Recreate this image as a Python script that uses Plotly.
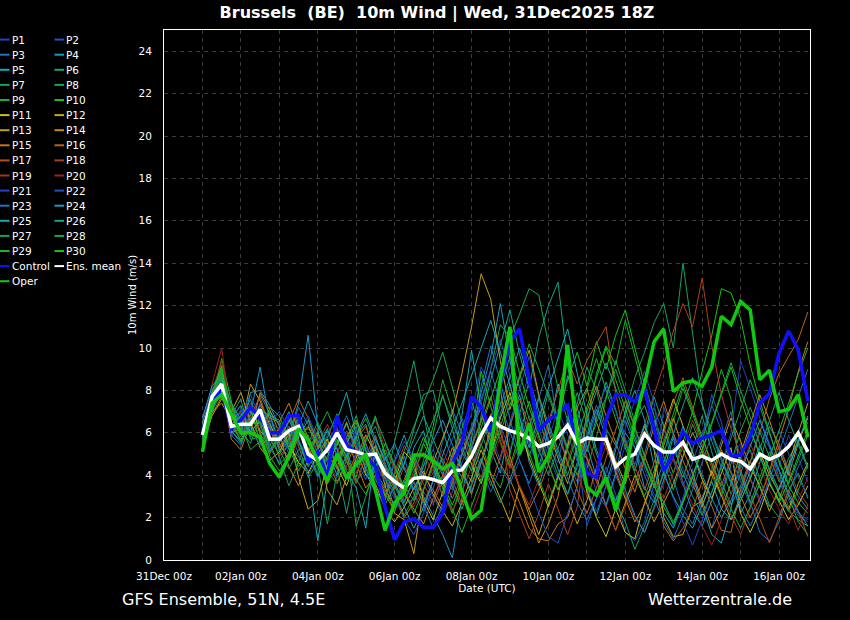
import plotly.graph_objects as go
import pandas as pd

# ---------------- data ----------------
TIMES = pd.date_range("2026-01-01 00:00", periods=64, freq="6h")

P1 = [6.3,7.9,8.6,6.5,6.0,7.1,6.4,5.2,
      5.9,6.7,5.5,4.8,4.2,5.6,6.3,4.9,
      4.4,5.3,4.7,3.6,2.9,3.3,4.1,3.2,
      2.6,3.9,4.8,5.7,6.9,9.1,8.2,6.4,
      5.1,7.3,8.8,6.2,4.9,3.8,5.6,6.9,
      4.7,3.2,2.5,3.9,5.4,6.1,4.3,3.1,
      2.8,1.6,2.9,4.3,2.1,1.5,3.2,4.8,
      5.5,3.9,2.7,3.6,4.4,5.9,4.8,3.7]
P2 = [5.7,7.3,8.1,6.8,6.9,6.2,7.4,6.1,
      5.4,4.9,6.2,5.7,4.3,3.8,5.1,6.0,
      5.5,4.6,3.9,3.1,3.7,2.6,2.9,4.4,
      5.2,4.1,3.3,4.9,6.2,7.4,5.9,4.7,
      6.5,8.1,9.6,7.7,5.3,4.6,6.8,5.2,
      1.6,2.9,4.4,3.1,1.3,0.9,1.8,3.6,
      7.2,5.9,4.3,3.4,5.7,7.8,6.5,4.2,
      3.1,4.6,6.2,5.3,3.9,2.8,2.1,1.8]
P3 = [6.0,7.6,8.4,5.9,5.4,6.6,7.8,6.9,
      5.1,5.8,7.2,6.4,5.0,4.4,6.1,5.2,
      3.7,4.3,5.8,4.6,3.4,4.9,3.1,2.3,
      3.8,5.6,7.1,6.0,5.1,8.2,10.1,8.4,
      6.7,4.9,5.8,7.6,9.2,6.3,4.5,3.7,
      5.9,7.3,6.1,4.0,2.9,3.6,5.0,6.6,
      4.9,3.8,2.4,1.7,2.9,4.3,5.6,7.0,
      4.2,2.7,1.3,0.9,1.8,3.1,4.4,5.3]
P4 = [6.4,8.0,8.9,6.1,5.6,6.9,9.1,6.5,
      5.3,5.9,7.4,10.6,6.2,3.9,4.8,5.5,
      6.3,4.1,3.2,2.8,4.7,5.9,4.3,3.0,
      2.1,1.2,0.1,2.9,5.8,7.9,9.6,12.1,
      9.4,6.8,4.6,3.5,5.1,6.4,8.7,7.2,
      5.4,3.9,2.6,4.1,6.0,5.3,3.4,2.7,
      4.2,5.8,3.6,2.3,1.6,2.8,4.5,3.9,
      2.2,3.1,4.6,6.3,5.5,4.1,3.0,2.4]
P5 = [6.2,7.5,8.2,6.7,7.3,5.8,6.2,7.0,
      6.4,5.2,4.9,4.2,0.9,3.8,6.6,7.9,
      5.9,6.4,4.8,3.9,2.4,3.6,5.3,6.1,
      4.4,3.0,4.6,6.8,9.9,7.1,5.2,4.1,
      6.3,7.8,5.6,4.4,6.1,8.3,7.0,4.8,
      3.3,2.1,3.5,5.2,6.9,8.0,6.6,4.4,
      2.2,1.5,2.7,3.9,2.6,1.2,0.8,2.4,
      4.9,6.1,5.0,3.6,2.8,4.2,5.7,6.5]
P6 = [5.8,7.7,8.7,6.0,6.5,7.6,5.9,5.4,
      6.1,7.0,5.7,4.5,5.3,6.2,4.9,4.0,
      4.6,5.7,6.3,5.0,3.8,4.5,6.2,7.8,
      8.0,6.1,4.7,3.9,5.4,6.6,8.5,10.2,
      11.8,9.7,8.1,10.5,12.0,13.1,9.2,6.4,
      5.1,6.7,8.4,7.1,5.5,4.2,6.0,7.7,
      6.3,4.8,3.9,5.2,6.8,5.1,3.7,2.6,
      3.5,4.7,3.4,2.5,3.1,2.3,1.9,1.6]
P7 = [5.5,7.0,8.0,7.2,6.1,5.5,6.8,6.3,
      4.8,3.5,4.6,5.9,4.5,1.7,4.1,5.6,
      6.8,5.1,4.2,3.4,5.6,7.4,9.4,6.9,
      4.5,3.6,5.0,6.2,7.5,6.0,4.8,6.9,
      8.3,6.4,4.9,6.2,7.9,6.6,5.3,7.4,
      9.1,8.0,6.2,5.4,7.0,8.6,9.8,11.2,
      12.1,10.0,14.0,10.7,7.4,5.6,4.3,3.1,
      4.4,5.2,3.8,2.6,2.0,3.3,4.1,2.9]
P8 = [6.1,7.8,9.2,6.3,5.7,6.3,7.0,5.8,
      5.6,6.3,5.4,3.9,4.6,5.8,6.9,5.3,
      1.6,3.0,4.4,5.2,4.3,3.5,2.8,4.0,
      5.9,7.8,6.2,4.4,3.7,6.8,9.0,11.1,
      10.5,11.6,12.8,12.5,10.2,8.1,6.6,5.0,
      4.3,5.8,7.6,9.4,8.0,6.5,7.3,5.9,
      4.6,3.3,4.9,6.4,5.3,4.0,3.0,4.5,
      6.1,7.2,6.0,4.9,3.7,4.8,5.6,4.4]
P9 = [5.9,7.2,8.6,6.9,6.4,5.2,5.6,7.2,
      6.8,5.7,4.4,5.1,5.9,4.2,3.6,4.7,
      5.8,6.7,5.5,4.1,3.2,2.1,3.0,4.7,
      6.3,8.5,7.0,5.1,4.2,5.5,4.1,3.4,
      5.0,6.9,8.4,6.7,5.2,4.0,3.1,4.6,
      6.4,8.8,10.1,9.2,11.3,9.6,7.8,6.1,
      5.0,6.6,8.1,6.9,5.6,7.3,9.0,7.6,
      4.0,2.7,3.9,5.1,4.2,3.0,1.8,1.2]
P10 = [5.6,7.4,9.5,7.5,5.9,6.0,6.6,5.5,
       4.5,5.0,6.5,5.2,4.0,4.9,5.7,4.6,
       3.9,5.6,6.8,4.9,3.6,2.7,3.9,5.5,
       4.6,3.4,2.2,3.6,5.7,8.9,7.3,5.6,
       4.4,6.0,7.5,5.9,4.6,6.8,8.5,9.8,
       8.2,10.3,9.0,10.6,11.8,10.0,8.3,6.8,
       5.3,4.1,5.5,7.0,8.9,10.6,12.8,12.6,
       11.4,9.2,7.5,6.0,4.6,3.5,2.7,2.2]
P11 = [6.0,7.1,7.9,6.4,6.8,7.3,6.1,5.6,
       6.2,5.5,4.6,4.1,5.0,5.7,4.4,3.5,
       4.8,5.9,5.0,4.3,3.7,5.1,4.6,2.8,
       1.9,3.2,4.9,5.8,4.5,3.6,5.0,6.7,
       7.9,6.2,4.8,3.6,2.5,3.9,5.4,6.6,
       3.2,2.0,1.1,2.4,1.3,1.0,2.7,3.9,
       6.2,7.6,6.3,5.0,3.8,2.9,4.1,5.3,
       2.2,1.3,2.3,3.6,2.8,1.9,2.6,3.5]
P12 = [5.4,6.8,7.6,7.0,7.9,6.5,5.3,4.7,
       5.1,6.0,3.9,2.4,2.8,4.5,5.4,6.5,
       5.2,4.0,3.6,2.4,1.8,2.5,3.4,4.2,
       3.1,2.3,1.6,2.7,3.9,5.2,4.0,2.9,
       1.8,3.5,2.3,1.2,2.6,4.0,2.9,1.7,
       2.8,4.3,5.9,4.7,3.6,5.1,6.3,5.2,
       2.0,1.1,1.2,2.5,2.8,4.2,3.0,1.9,
       2.8,3.8,5.1,4.0,3.2,2.4,3.6,4.6]
P13 = [6.5,7.7,8.0,6.0,6.2,8.3,7.5,6.4,
       5.5,4.7,5.8,6.3,5.4,3.3,2.6,3.9,
       5.0,4.5,5.4,3.5,2.2,1.9,0.3,3.3,
       4.6,5.8,6.9,8.8,11.0,13.5,12.3,9.4,
       7.1,8.6,9.9,7.8,6.1,4.8,3.6,5.3,
       4.8,3.7,2.5,1.4,2.7,4.0,2.9,1.8,
       2.7,3.6,4.9,6.0,5.1,4.0,5.4,6.7,
       5.6,4.4,3.5,2.3,3.4,4.5,6.0,7.4]
P14 = [5.8,7.0,7.4,6.6,7.0,6.0,7.9,7.1,
       6.0,4.4,3.5,4.8,6.0,5.1,4.3,5.8,
       6.6,5.5,4.3,3.0,4.0,3.1,2.4,1.7,
       2.9,4.0,5.3,4.2,3.1,4.6,6.2,8.1,
       4.9,3.4,2.1,0.8,1.7,3.0,5.4,7.2,
       8.1,6.5,5.3,4.2,2.9,1.8,2.6,3.9,
       5.4,6.7,5.2,4.1,2.8,1.5,2.4,3.6,
       5.0,6.4,7.8,6.6,5.2,4.0,5.5,6.7]
P15 = [6.3,7.4,8.2,5.7,5.2,6.4,7.3,6.7,
       6.5,7.4,6.1,5.3,4.5,3.6,4.8,5.7,
       4.5,3.4,4.0,3.3,2.6,3.8,4.9,4.0,
       3.3,2.5,3.6,5.0,6.1,7.2,5.6,4.5,
       3.8,2.7,1.5,1.0,0.9,1.7,2.0,3.5,
       7.0,8.2,6.8,5.5,4.3,3.2,4.8,6.3,
       7.5,6.0,4.7,3.6,2.5,3.8,5.2,4.1,
       3.0,2.0,2.9,4.2,5.6,7.1,8.9,10.3]
P16 = [5.6,6.9,7.7,6.3,6.7,7.0,6.0,5.0,
       5.8,6.5,7.6,6.7,5.5,4.6,3.7,4.4,
       5.7,6.3,5.0,3.8,3.1,2.0,2.7,3.8,
       4.9,4.0,2.9,3.9,5.3,6.5,7.7,6.0,
       4.6,3.4,2.4,3.3,4.5,5.9,4.6,3.3,
       2.2,3.4,4.8,6.1,7.5,6.2,5.0,3.7,
       1.6,0.9,1.5,2.4,3.7,2.5,1.4,1.3,
       3.3,4.6,6.0,7.6,8.8,9.6,10.4,11.7]
P17 = [6.1,7.5,8.9,6.4,5.8,6.8,7.7,6.2,
       5.3,6.1,6.9,5.6,4.7,5.3,6.2,4.7,
       3.6,4.9,5.9,4.5,3.3,4.4,3.6,2.7,
       3.7,4.8,3.8,2.6,3.5,4.7,3.5,4.9,
       6.4,7.6,6.3,5.1,6.5,8.0,9.5,8.3,
       9.4,10.2,11.0,7.9,5.6,4.4,3.3,4.6,
       6.0,7.4,8.6,7.2,5.8,4.6,3.5,4.8,
       4.2,3.1,1.9,0.8,2.0,3.3,2.3,1.1]
P18 = [5.9,7.2,9.0,7.1,6.5,5.9,6.4,5.9,
       4.9,5.4,6.6,5.8,5.1,4.1,5.0,6.1,
       5.3,4.4,3.5,2.9,4.2,5.4,4.7,3.6,
       2.7,3.7,4.9,6.0,4.8,3.9,5.3,6.5,
       3.3,2.1,1.0,2.2,3.6,2.4,1.2,2.5,
       5.8,4.6,3.5,2.5,3.7,5.0,6.4,7.8,
       9.2,10.8,12.1,11.0,13.3,10.1,7.8,6.2,
       4.9,3.8,2.9,4.1,5.4,4.3,3.2,2.6]
P19 = [6.2,7.9,9.4,6.8,6.1,7.4,6.9,6.0,
       5.7,6.9,5.3,4.6,5.5,6.4,5.3,4.3,
       4.1,5.0,4.1,3.2,2.4,3.0,4.2,5.1,
       4.0,3.1,2.3,3.2,4.4,5.6,6.9,5.5,
       4.3,5.6,6.8,5.6,4.4,3.3,4.7,6.1,
       4.9,3.7,2.6,1.4,2.5,3.7,4.9,3.8,
       2.9,4.1,5.3,6.6,5.5,4.3,3.2,2.1,
       1.2,2.4,3.7,4.9,3.8,2.5,1.4,2.6]
P20 = [6.0,8.3,10.0,6.6,6.3,6.6,6.2,5.6,
       6.3,5.8,4.8,5.4,6.3,5.5,4.6,3.8,
       5.0,5.8,6.6,5.3,4.3,3.2,2.5,3.4,
       4.3,5.2,4.1,3.0,2.1,3.3,4.5,5.8,
       4.7,3.5,2.6,3.8,5.0,6.3,5.1,4.0,
       3.0,4.1,5.4,4.3,3.1,2.0,1.3,2.4,
       3.6,4.8,3.7,2.6,1.6,0.7,1.9,3.1,
       4.3,5.5,4.4,3.3,2.4,1.7,2.8,3.9]
P21 = [6.6,8.1,8.5,5.8,6.9,7.8,6.7,6.6,
       6.1,5.0,5.9,6.8,5.7,4.6,3.9,5.0,
       6.2,5.4,4.5,3.7,4.6,5.6,4.8,3.9,
       3.0,2.1,3.2,4.5,5.9,7.4,9.0,10.4,
       8.7,7.0,5.5,4.3,5.7,7.1,5.9,4.6,
       3.4,2.3,3.5,4.7,6.2,7.5,8.9,7.4,
       4.1,2.9,1.8,0.7,1.9,3.2,4.5,6.0,
       9.4,8.1,6.7,5.5,4.2,3.1,2.2,1.9]
P22 = [5.3,7.1,7.9,6.2,7.1,6.2,5.4,6.5,
       7.0,6.2,5.0,4.0,4.9,5.9,6.8,5.8,
       4.7,3.8,4.9,4.0,3.0,1.9,1.2,2.2,
       3.4,4.5,5.7,6.7,5.5,4.3,3.2,4.4,
       3.6,4.7,3.4,2.2,1.1,0.8,2.2,3.4,
       5.6,6.9,8.2,7.0,5.7,4.5,5.9,7.2,
       5.9,4.7,3.5,4.6,5.9,7.3,6.1,4.8,
       3.7,2.6,3.6,4.8,6.1,5.0,3.9,3.0]
P23 = [6.1,7.3,8.0,6.9,5.9,6.9,7.2,5.3,
       4.6,5.6,6.7,5.0,3.9,4.8,5.8,6.8,
       5.6,4.7,5.7,4.8,3.9,2.8,3.7,2.6,
       1.5,2.6,3.8,5.0,6.3,7.6,8.9,7.4,
       6.0,4.7,3.6,4.9,6.3,5.0,3.8,2.7,
       1.9,2.9,4.1,5.3,6.6,5.3,4.0,2.9,
       1.8,1.0,2.1,3.3,4.6,5.9,4.7,3.6,
       2.5,1.6,2.6,3.8,5.1,6.4,7.8,9.0]
P24 = [6.7,8.2,8.8,6.4,6.0,7.9,8.0,7.3,
       6.3,5.3,6.3,7.5,6.4,5.2,4.0,4.9,
       5.9,6.9,5.7,4.7,5.5,4.3,3.3,4.5,
       5.6,6.6,5.4,4.3,3.2,4.6,6.0,7.3,
       8.6,10.0,8.5,7.0,5.6,4.3,3.1,4.4,
       5.8,7.1,5.8,4.5,3.3,2.1,1.3,2.5,
       3.8,5.0,6.3,5.1,4.0,2.9,2.0,2.8,
       4.1,5.3,6.6,5.4,4.2,3.1,2.3,1.6]
P25 = [5.7,7.0,8.5,7.4,6.6,6.1,6.5,6.9,
       5.5,6.6,5.6,4.4,5.2,6.1,5.2,4.2,
       3.4,1.5,5.4,4.4,3.5,2.5,1.5,2.5,
       3.7,4.9,6.1,7.4,8.7,10.0,11.3,9.8,
       8.2,6.7,5.3,6.7,8.0,9.4,10.9,8.8,
       6.9,5.2,3.9,2.8,3.9,5.1,6.4,5.2,
       4.1,3.0,2.1,1.5,2.6,3.7,2.4,1.9,
       3.0,4.2,5.4,4.3,3.3,4.4,5.6,6.8]
P26 = [6.4,7.8,8.3,6.1,5.5,6.7,6.8,5.1,
       5.9,6.8,5.8,6.6,5.3,4.3,5.5,6.4,
       5.4,4.3,3.3,2.6,3.5,4.6,5.7,6.8,
       5.7,4.6,3.5,2.4,3.6,4.8,3.7,2.7,
       3.8,5.0,6.3,7.7,6.4,5.2,4.0,5.3,
       6.7,8.0,9.3,8.1,6.8,5.6,4.5,3.4,
       4.6,5.9,7.3,8.6,7.3,6.0,4.8,3.7,
       2.8,3.9,5.2,6.5,7.9,6.6,5.4,4.3]
P27 = [5.5,7.6,9.0,6.8,7.6,5.7,5.8,6.3,
       5.2,4.3,5.2,5.5,6.5,5.4,4.4,2.2,
       4.6,5.6,6.7,5.6,4.5,3.4,4.4,5.5,
       6.6,7.7,6.5,5.3,4.2,5.4,6.7,8.1,
       9.6,8.1,6.6,5.2,4.0,5.2,6.5,7.9,
       6.4,5.0,3.8,2.7,1.8,0.5,1.6,2.8,
       4.0,5.3,4.1,3.0,2.1,3.2,4.4,5.7,
       7.1,8.5,7.2,5.9,4.7,3.6,4.7,5.9]
P28 = [6.2,7.4,8.9,7.3,6.3,6.5,7.1,6.8,
       6.6,5.3,4.2,5.1,6.1,7.0,5.9,4.8,
       5.8,4.6,3.8,3.0,4.0,5.2,6.3,7.4,
       8.5,9.8,8.1,6.5,5.0,3.7,4.8,6.0,
       7.3,8.7,10.2,9.0,7.7,6.4,5.2,4.0,
       5.2,6.4,7.7,9.0,7.6,6.2,4.9,3.7,
       2.7,1.8,2.8,4.0,5.2,6.5,7.9,9.3,
       8.0,6.7,5.4,4.2,3.1,2.3,3.3,4.5]
P29 = [5.8,7.1,8.7,6.5,5.6,6.4,6.5,4.9,
       4.2,4.9,5.9,6.2,5.6,4.7,5.6,4.9,
       3.8,3.1,4.3,5.5,4.4,3.3,2.2,3.3,
       4.5,3.4,2.4,1.3,2.5,3.7,5.0,6.3,
       7.7,6.3,5.0,3.8,2.7,3.9,5.2,6.6,
       8.0,9.5,8.0,6.6,5.3,4.1,3.0,4.2,
       5.5,6.9,8.3,7.0,5.7,4.5,3.4,2.4,
       1.5,2.5,3.6,4.8,6.1,7.4,8.8,10.0]
P30 = [6.0,7.9,9.1,6.2,6.8,7.2,5.5,5.7,
       5.0,5.7,6.8,5.8,4.8,3.9,4.7,5.5,
       6.5,5.2,4.1,3.1,2.3,3.5,4.7,5.8,
       4.7,3.6,2.6,3.7,4.9,6.2,7.6,9.0,
       10.5,8.8,7.2,5.8,4.5,3.3,4.5,5.8,
       7.2,8.6,10.0,8.5,7.1,5.8,4.6,3.5,
       2.5,1.7,2.7,3.9,5.1,6.4,7.8,9.1,
       7.6,6.2,4.9,3.7,2.7,3.7,4.9,6.1]

CONTROL = [6.1,7.6,8.0,6.2,6.6,7.2,6.7,6.0,
           6.0,6.8,6.8,4.6,5.1,3.9,6.8,5.4,
           5.1,4.9,4.4,2.5,0.95,1.8,1.95,1.55,
           1.55,2.2,4.55,5.5,7.7,7.2,6.05,8.35,
           10.3,10.9,8.5,6.1,6.6,6.9,7.3,5.5,
           4.1,3.9,6.6,7.8,7.8,7.45,8.1,6.1,
           4.2,5.0,6.05,5.5,5.75,5.9,6.1,4.9,
           4.95,5.8,7.4,7.85,9.75,10.8,9.9,7.5]
ENS_MEAN = [5.9,7.7,8.3,6.3,6.4,6.4,7.1,5.7,
            5.7,6.1,6.3,5.0,4.7,5.2,6.0,5.2,
            5.1,4.95,5.0,4.1,3.7,3.4,3.85,3.9,
            3.8,3.65,4.2,4.25,4.9,5.9,6.7,6.3,
            6.1,5.95,5.75,5.35,5.5,5.8,6.35,5.5,
            5.75,5.7,5.7,4.4,4.8,5.0,5.95,5.4,
            5.1,5.1,5.55,4.75,4.9,4.7,5.0,4.75,
            4.65,4.3,5.0,4.75,4.95,5.35,6.0,5.1]
OPER = [5.1,7.4,7.8,6.9,6.0,6.0,5.8,4.55,
        3.9,4.9,6.2,5.65,4.65,3.7,5.0,3.85,
        4.5,5.0,3.3,1.4,2.7,3.15,4.95,4.95,
        4.7,4.3,4.55,3.3,1.95,2.35,5.2,8.5,
        11.0,5.0,6.45,4.15,4.9,6.3,10.15,5.8,
        3.45,3.05,3.9,2.35,3.9,6.6,8.3,10.3,
        10.9,7.95,8.35,8.45,8.2,9.1,11.5,11.1,
        12.2,11.8,8.5,8.95,7.0,7.1,7.8,5.8]

MEMBERS = [P1, P2, P3, P4, P5, P6, P7, P8, P9, P10,
           P11, P12, P13, P14, P15, P16, P17, P18, P19, P20,
           P21, P22, P23, P24, P25, P26, P27, P28, P29, P30]
MEMBER_NAMES = ["P%d" % (k + 1) for k in range(30)]

for nm, arr in zip(MEMBER_NAMES + ["Control", "Ens. mean", "Oper"], MEMBERS + [CONTROL, ENS_MEAN, OPER]):
    assert len(arr) == len(TIMES), (nm, len(arr))

TITLE = "Brussels\u00a0\u00a0(BE)\u00a0\u00a010m Wind | Wed, 31Dec2025 18Z"
LEFT_NOTE = "GFS Ensemble, 51N, 4.5E"
RIGHT_NOTE = "Wetterzentrale.de"

# ---------------- styles ----------------
BASE_COLORS = ["#2342c8", "#1f52c4", "#1f72c0", "#1a98c6", "#17a8b6",
               "#14a486", "#14a262", "#16aa46", "#18b22a", "#12c412",
               "#c8c012", "#c8aa12", "#c89c12", "#c68a12", "#c47812",
               "#be6412", "#b65018", "#ae3e1e", "#a63020", "#9c2020"]
MEMBER_COLORS = BASE_COLORS + BASE_COLORS[:10]
CONTROL_COLOR = "#1010ff"
MEAN_COLOR = "#ffffff"
OPER_COLOR = "#10c810"
FONT = "DejaVu Sans"

W, H = 850, 620
L, R, T, B = 164, 40, 30, 60
PW, PH = W - L - R, H - T - B

fig = go.Figure()
for nm, arr, col in zip(MEMBER_NAMES, MEMBERS, MEMBER_COLORS):
    fig.add_trace(go.Scatter(x=TIMES, y=arr, mode="lines", name=nm,
                             line=dict(color=col, width=1), showlegend=False))
fig.add_trace(go.Scatter(x=TIMES, y=CONTROL, mode="lines", name="Control",
                         line=dict(color=CONTROL_COLOR, width=3.5), showlegend=False))
fig.add_trace(go.Scatter(x=TIMES, y=ENS_MEAN, mode="lines", name="Ens. mean",
                         line=dict(color=MEAN_COLOR, width=3.5), showlegend=False))
fig.add_trace(go.Scatter(x=TIMES, y=OPER, mode="lines", name="Oper",
                         line=dict(color=OPER_COLOR, width=3.5), showlegend=False))

# ---------------- manual two-column legend ----------------
col1 = [(n, c) for n, c in zip(MEMBER_NAMES[0::2], MEMBER_COLORS[0::2])] + \
       [("Control", CONTROL_COLOR), ("Oper", OPER_COLOR)]
col2 = [(n, c) for n, c in zip(MEMBER_NAMES[1::2], MEMBER_COLORS[1::2])] + \
       [("Ens. mean", MEAN_COLOR)]

def px2x(px):
    return (px - L) / PW

def py2y(py):
    return (T + PH - py) / PH

shapes = []
annotations = []
for colx, items in ((0.0, col1), (54.5, col2)):
    for k, (nm, c) in enumerate(items):
        yy = py2y(39.6 + 15.1 * k)
        shapes.append(dict(type="line", xref="paper", yref="paper",
                           x0=px2x(colx), x1=px2x(colx + 9.5), y0=yy, y1=yy,
                           line=dict(color=c, width=2)))
        annotations.append(dict(xref="paper", yref="paper", x=px2x(colx + 9.5), y=yy,
                                text=nm, showarrow=False, xanchor="left", yanchor="middle",
                                font=dict(family=FONT, size=10.5, color="white")))

annotations.append(dict(xref="paper", yref="paper", x=px2x(120), y=py2y(599),
                        text=LEFT_NOTE, showarrow=False, xanchor="left", yanchor="middle",
                        font=dict(family=FONT, size=16, color="white")))
annotations.append(dict(xref="paper", yref="paper", x=px2x(794), y=py2y(599),
                        text=RIGHT_NOTE, showarrow=False, xanchor="right", yanchor="middle",
                        font=dict(family=FONT, size=16, color="white")))

DAY_MS = 86400000
GRID = "#3c3c3c"
fig.update_layout(
    width=W, height=H,
    margin=dict(l=L, r=R, t=T, b=B),
    paper_bgcolor="black", plot_bgcolor="black",
    font=dict(family=FONT, color="white", size=10),
    title=dict(text="<b>" + TITLE + "</b>", x=437 / W, xanchor="center",
               xref="container", yref="container", y=1 - 12 / H, yanchor="middle",
               font=dict(family=FONT, size=16, color="white")),
    shapes=shapes, annotations=annotations,
    showlegend=False,
    xaxis=dict(type="date", range=["2025-12-31 00:00", "2026-01-16 19:20"],
               tick0="2025-12-31", dtick=2 * DAY_MS, tickformat="%d%b %Hz",
               showline=True, linecolor="white", linewidth=1, mirror=True,
               showgrid=True, gridcolor=GRID, griddash="4px,4px", gridwidth=1,
               minor=dict(dtick=DAY_MS, showgrid=True, gridcolor=GRID, griddash="4px,4px"),
               zeroline=False, ticks="", ticklabelstandoff=6,
               tickfont=dict(family=FONT, size=10.5, color="white"),
               title=dict(text="Date (UTC)", standoff=4,
                          font=dict(family=FONT, size=10.5, color="white"))),
    yaxis=dict(range=[0, 25], dtick=2, tick0=0,
               showline=True, linecolor="white", linewidth=1, mirror=True,
               showgrid=True, gridcolor=GRID, griddash="4px,4px", gridwidth=1,
               zeroline=False, ticks="", ticklabelstandoff=9,
               tickfont=dict(family=FONT, size=10.5, color="white"),
               title=dict(text="10m Wind (m/s)", standoff=0,
                          font=dict(family=FONT, size=10, color="white"))),
)

fig.write_html("out.html", config={"displayModeBar": False},
               post_script="document.body.style.margin='0';document.body.style.background='black';")
